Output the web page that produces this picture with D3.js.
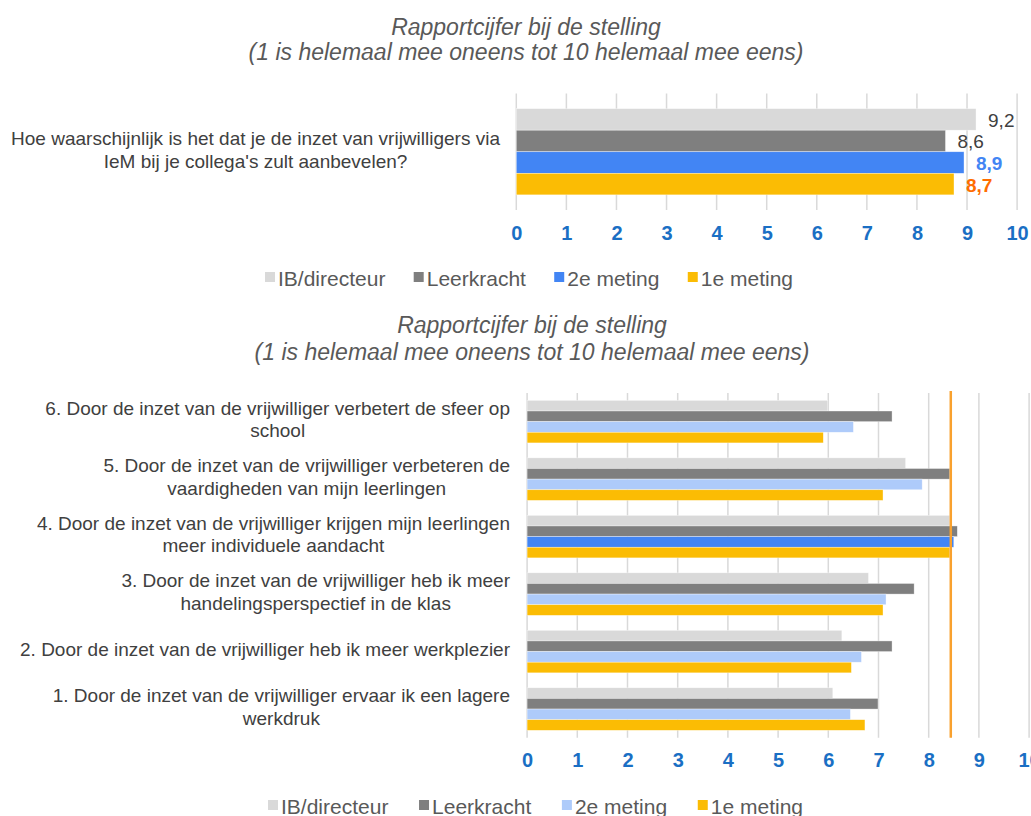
<!DOCTYPE html>
<html>
<head>
<meta charset="utf-8">
<script src="https://cdn.jsdelivr.net/npm/d3@7"></script>
<style>
  html, body { margin: 0; padding: 0; background: #fff; }
  svg { display: block; font-family: Arial, "Liberation Sans", sans-serif; }
</style>
</head>
<body>
<svg id="chart" width="1031" height="816"></svg>
<script>
// ---------- DATA ----------
const series = ["IB/directeur", "Leerkracht", "2e meting", "1e meting"];

const topCategories = [
  "Hoe waarschijnlijk is het dat je de inzet van vrijwilligers via|IeM bij je collega's zult aanbevelen?"
];
const topIB = [9.18];
const topLeerkracht = [8.57];
const top2e = [8.94];
const top1e = [8.74];

const bottomCategories = [
  "6. Door de inzet van de vrijwilliger verbetert de sfeer op|school",
  "5. Door de inzet van de vrijwilliger verbeteren de|vaardigheden van mijn leerlingen",
  "4. Door de inzet van de vrijwilliger krijgen mijn leerlingen|meer individuele aandacht",
  "3. Door de inzet van de vrijwilliger heb ik meer|handelingsperspectief in de klas",
  "2. Door de inzet van de vrijwilliger heb ik meer werkplezier",
  "1. Door de inzet van de vrijwilliger ervaar ik een lagere|werkdruk"
];
const bottomIB = [5.99, 7.54, 8.42, 6.80, 6.27, 6.09];
const bottomLeerkracht = [7.27, 8.42, 8.57, 7.71, 7.27, 6.99];
const bottom2e = [6.50, 7.87, 8.50, 7.15, 6.66, 6.44];
const bottom1e = [5.90, 7.09, 8.42, 7.09, 6.46, 6.73];
const bottomReference = [8.44];

const xTicks = [0, 1, 2, 3, 4, 5, 6, 7, 8, 9, 10];
const titleLines = ["Rapportcijfer bij de stelling", "(1 is helemaal mee oneens tot 10 helemaal mee eens)"];

// ---------- STYLE ----------
const colorsTop = ["#d9d9d9", "#7f7f7f", "#4285f4", "#fbbc04"];
const colorsBottom = ["#d9d9d9", "#7f7f7f", "#aecbfa", "#fbbc04"];
const highlightBottomCat = 2; // index of category whose 2e meting is dark blue
const valueLabelStyle = [
  {fill: "#404040", weight: "normal"},
  {fill: "#404040", weight: "normal"},
  {fill: "#4285f4", weight: "bold"},
  {fill: "#ff6d00", weight: "bold"}
];

const svg = d3.select("#chart");
const fmt = v => d3.format(".1f")(v).replace(".", ",");

function buildRows(cats, arrays) {
  return cats.map((c, i) => ({cat: c, values: arrays.map((a, j) => ({s: series[j], v: a[i], j, i}))}));
}

function drawTitle(cx, ys) {
  svg.append("g").selectAll("text").data(titleLines).join("text")
    .attr("x", cx).attr("y", (d, i) => ys[i])
    .attr("text-anchor", "middle").attr("dominant-baseline", "central")
    .attr("font-size", 23).attr("font-style", "italic").attr("fill", "#595959")
    .text(d => d);
}

function drawLegend(left, right, cy, colors) {
  const g = svg.append("g");
  const items = [];
  let x = 0;
  series.forEach((s, i) => {
    const it = g.append("g");
    it.append("rect").attr("x", 0).attr("y", -5).attr("width", 10).attr("height", 10).attr("fill", colors[i]);
    const t = it.append("text").attr("x", 13).attr("y", 1).attr("dominant-baseline", "central")
      .attr("font-size", 21).attr("fill", "#595959").text(s);
    const w = 13 + t.node().getComputedTextLength();
    items.push({it, w});
  });
  const sumW = d3.sum(items, d => d.w);
  const gap = (right - left - sumW) / (items.length - 1);
  items.forEach(d => { d.it.attr("transform", `translate(${left + x},${cy})`); x += d.w + gap; });
}

function drawChart(opts) {
  const {rows, colors, xRange, yRange, tickY, labelRight, fontSize, lineGap, showValues, refLine} = opts;
  const x = d3.scaleLinear().domain([0, 10]).range(xRange);
  const y0 = d3.scaleBand().domain(rows.map(r => r.cat)).range(yRange).paddingInner(0.26).paddingOuter(0.13);
  const y1 = d3.scaleBand().domain(series).range([0, y0.bandwidth()]);
  const g = svg.append("g");

  // grid
  g.append("g").selectAll("line").data(xTicks).join("line")
    .attr("x1", d => x(d)).attr("x2", d => x(d))
    .attr("y1", yRange[0]).attr("y2", yRange[1])
    .attr("stroke", "#d9d9d9").attr("stroke-width", 1.5);

  // axis tick labels via d3 axis
  const axis = d3.axisBottom(x).tickValues(xTicks).tickSize(0).tickPadding(0).tickFormat(d3.format("d"));
  const ax = g.append("g").attr("transform", `translate(0,${tickY})`).call(axis);
  ax.select(".domain").remove();
  ax.selectAll("text").attr("font-size", 20).attr("font-weight", "bold").attr("fill", "#1a6fc4")
    .attr("font-family", "Arial, 'Liberation Sans', sans-serif")
    .attr("dy", null).attr("y", 0).attr("dominant-baseline", "central");

  // bars
  const grp = g.append("g").selectAll("g").data(rows).join("g")
    .attr("transform", d => `translate(0,${y0(d.cat)})`);
  grp.selectAll("rect").data(d => d.values).join("rect")
    .attr("x", x(0)).attr("y", d => y1(d.s))
    .attr("width", d => x(d.v) - x(0)).attr("height", y1.bandwidth())
    .attr("fill", d => (opts.highlight !== undefined && d.j === 2 && d.i === opts.highlight) ? "#4285f4" : colors[d.j])
    .attr("stroke", "#ffffff").attr("stroke-width", 0.6).attr("stroke-opacity", 0.6);

  if (showValues) {
    grp.selectAll("text.val").data(d => d.values).join("text").attr("class", "val")
      .attr("x", d => x(d.v) + 12).attr("y", d => y1(d.s) + y1.bandwidth() / 2 + 1)
      .attr("dominant-baseline", "central").attr("font-size", 19)
      .attr("fill", d => valueLabelStyle[d.j].fill).attr("font-weight", d => valueLabelStyle[d.j].weight)
      .text(d => fmt(d.v));
  }

  if (refLine) {
    g.append("g").selectAll("line").data(refLine).join("line")
      .attr("x1", d => x(d)).attr("x2", d => x(d))
      .attr("y1", yRange[0] - 2).attr("y2", yRange[1])
      .attr("stroke", "#f9a12e").attr("stroke-width", 2.5);
  }

  // category labels
  rows.forEach(r => {
    const lines = r.cat.split("|");
    const t = g.append("text").attr("font-size", fontSize).attr("fill", "#404040").attr("text-anchor", "middle");
    const cy = y0(r.cat) + y0.bandwidth() / 2 - 2;
    const tspans = lines.map((ln, k) => t.append("tspan")
      .attr("y", cy + (k - (lines.length - 1) / 2) * lineGap)
      .attr("dominant-baseline", "central").text(ln));
    const maxW = d3.max(tspans, ts => ts.node().getComputedTextLength());
    const cx = labelRight - maxW / 2;
    tspans.forEach(ts => ts.attr("x", cx));
  });
}

// ---------- TOP CHART ----------
drawTitle(526, [27, 52]);
drawChart({
  rows: buildRows(topCategories, [topIB, topLeerkracht, top2e, top1e]),
  colors: colorsTop,
  xRange: [516.3, 1017.1],
  yRange: [93.5, 210],
  tickY: 233,
  labelRight: 500,
  fontSize: 19,
  lineGap: 23,
  showValues: true
});
drawLegend(265, 793, 277, colorsTop);

// ---------- BOTTOM CHART ----------
drawTitle(532, [325, 352]);
drawChart({
  rows: buildRows(bottomCategories, [bottomIB, bottomLeerkracht, bottom2e, bottom1e]),
  colors: colorsBottom,
  xRange: [527.1, 1029.1],
  yRange: [392.9, 737.8],
  tickY: 760,
  labelRight: 510,
  fontSize: 19,
  lineGap: 22.5,
  showValues: false,
  refLine: bottomReference,
  highlight: highlightBottomCat
});
drawLegend(268, 803, 805, colorsBottom);
</script>
</body>
</html>
